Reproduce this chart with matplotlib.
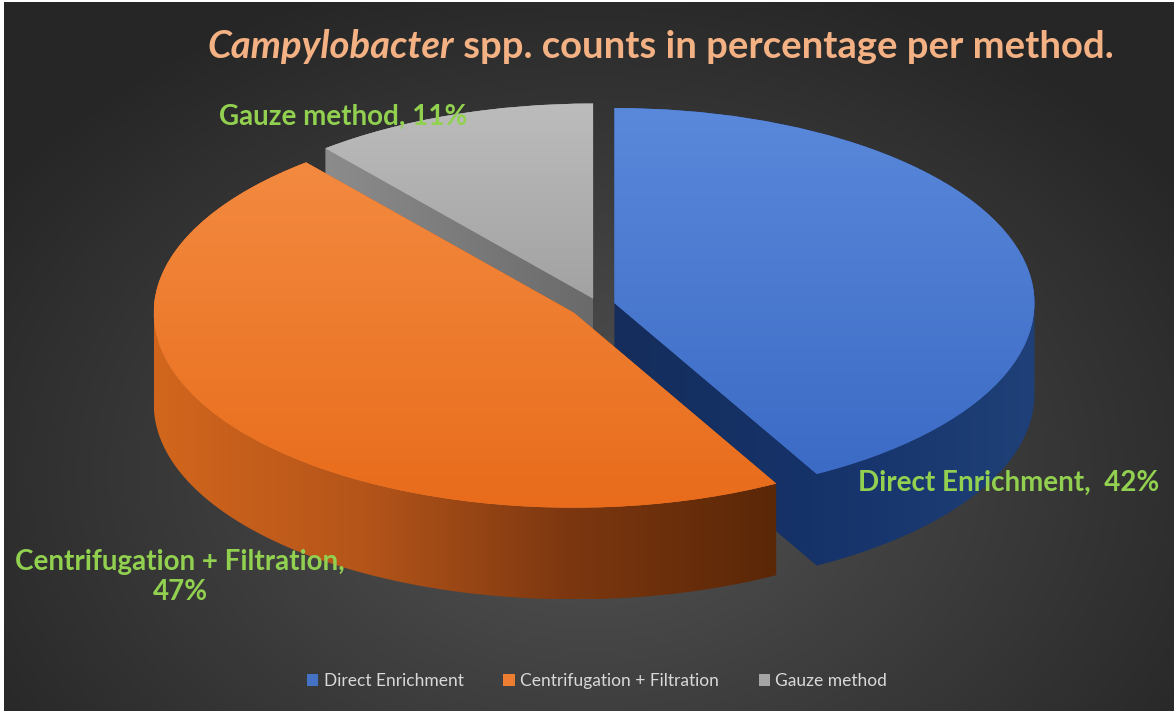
import numpy as np
import matplotlib.pyplot as plt
from matplotlib.patches import Polygon, Patch
from matplotlib.colors import LinearSegmentedColormap, to_rgb

# data
categories = ["Direct Enrichment", "Centrifugation + Filtration", "Gauze method"]
percent = [42, 47, 11]
label_sep = [",  ", ",\n", ", "]

top_colors = ["#4472c4", "#ed7d31", "#a5a5a5"]
top_grad = [["#5a88da", "#3c6bc6"], ["#f38a40", "#e86c1b"], ["#bcbcbc", "#a2a2a2"]]
side_grad = [["#142d5c", "#16336a", "#1f4078"],
             ["#d2661d", "#b5551a", "#7c3710", "#5a2707"],
             ["#8c8c8c", "#6a6a6a"]]
explode = [0.04, 0.07, 0.035]
depth = 0.47

plt.rcParams['font.family'] = ['Lato', 'DejaVu Sans']

W, H = 1174, 711
fig = plt.figure(figsize=(W / 100, H / 100), dpi=100)
fig.patch.set_facecolor("white")

# dark radial background
bg = fig.add_axes([4 / W, 0, 1 - 4 / W, 1 - 2 / H])
bg.axis('off')
yy, xx = np.mgrid[0:H, 0:W]
r = np.sqrt(((xx - 590) / 720.0) ** 2 + ((yy - 470) / 520.0) ** 2)
r = np.clip(r, 0, 1)
c_in, c_out = np.array(to_rgb("#545454")), np.array(to_rgb("#262626"))
img = c_in[None, None, :] * (1 - r[..., None]) + c_out[None, None, :] * r[..., None]
bg.imshow(img, extent=(0, 1, 0, 1), aspect='auto')
bg.set_xlim(0, 1)
bg.set_ylim(0, 1)


def hull(pts):
    pts = sorted(map(tuple, pts))

    def half(seq):
        out = []
        for p in seq:
            while len(out) >= 2 and ((out[-1][0] - out[-2][0]) * (p[1] - out[-2][1])
                                     - (out[-1][1] - out[-2][1]) * (p[0] - out[-2][0])) <= 0:
                out.pop()
            out.append(p)
        return out

    lower = half(pts)
    upper = half(pts[::-1])
    return np.array(lower[:-1] + upper[:-1])


def outline(w):
    t = np.radians(np.linspace(w.theta1, w.theta2, 150))
    cx, cy = w.center
    return np.column_stack([np.r_[cx, cx + w.r * np.cos(t)],
                            np.r_[cy, cy + w.r * np.sin(t)]])


ax = fig.add_axes([0, 0, 1, 1])
ax.patch.set_alpha(0)
wedges, _ = ax.pie(percent, explode=explode, colors=top_colors, startangle=90,
                   counterclock=False, radius=1, wedgeprops=dict(linewidth=0))

# draw order: gray at back, then blue, orange in front
order = {2: 1, 0: 3, 1: 5}
for i, w in enumerate(wedges):
    z = order[i]
    pts = outline(w)
    shifted = pts - np.array([0, depth])
    hp = hull(np.vstack([pts, shifted]))
    poly = Polygon(hp, closed=True, facecolor='none', edgecolor='none',
                   transform=ax.transData)
    ax.add_patch(poly)
    x0, x1 = hp[:, 0].min(), hp[:, 0].max()
    y0, y1 = hp[:, 1].min(), hp[:, 1].max()
    cmap = LinearSegmentedColormap.from_list("s%d" % i, side_grad[i])
    im = ax.imshow(np.linspace(0, 1, 256)[None, :], cmap=cmap, extent=(x0, x1, y0, y1),
                   aspect='auto', zorder=z, interpolation='bilinear')
    im.set_clip_path(poly)

    w.set_zorder(z + 0.5)
    ty0, ty1 = pts[:, 1].min(), pts[:, 1].max()
    tx0, tx1 = pts[:, 0].min(), pts[:, 0].max()
    tcmap = LinearSegmentedColormap.from_list("t%d" % i, top_grad[i][::-1])
    tim = ax.imshow(np.linspace(0, 1, 256)[:, None], cmap=tcmap, origin='lower',
                    extent=(tx0, tx1, ty0, ty1), aspect='auto', zorder=z + 0.6,
                    interpolation='bilinear')
    tim.set_clip_path(w)

ax.set_aspect('auto')
ax.set_xlim(-1.424, 1.371)
ax.set_ylim(-2.082, 1.564)
ax.axis('off')

# data labels
label_pos = [(1009, 483), (180, 577), (343, 117)]
for i, cat in enumerate(categories):
    px, py = label_pos[i]
    fig.text(px / W, 1 - py / H, f"{cat}{label_sep[i]}{percent[i]}%", color="#92d050",
             fontsize=20, fontweight='bold', ha='center', va='center',
             linespacing=1.2, zorder=10)

# title with italic genus
t1 = fig.text(207 / W, 1 - 58 / H, "Campylobacter", color="#f4b183", fontsize=27.5,
              fontweight='bold', fontstyle='italic', ha='left', va='baseline')
fig.add_artist(plt.Annotation(" spp. counts in percentage per method.", xy=(1, 0),
                              xycoords=t1, color="#f4b183", fontsize=27.5,
                              fontweight='bold', ha='left', va='bottom'))

handles = [Patch(facecolor=c, edgecolor='none') for c in top_colors]
fig.legend(handles, categories, loc='center', bbox_to_anchor=(597 / W, 1 - 681 / H),
           ncol=3, frameon=False, fontsize=12.5, labelcolor="#d9d9d9",
           handlelength=0.65, handleheight=0.65, handletextpad=0.3, columnspacing=2.3)

fig.savefig("out.png", dpi=100, facecolor=fig.get_facecolor())
